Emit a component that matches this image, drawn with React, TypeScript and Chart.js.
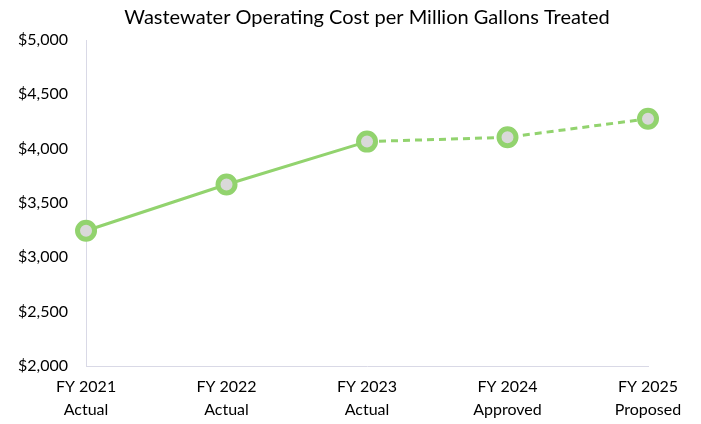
import React, { useEffect, useRef } from "react";
import { Chart, registerables } from "chart.js";

Chart.register(...registerables);

const TITLE = "Wastewater Operating Cost per Million Gallons Treated";
const YEARS = ["FY 2021", "FY 2022", "FY 2023", "FY 2024", "FY 2025"];
const STAGES = ["Actual", "Actual", "Actual", "Approved", "Proposed"];
const COST = [3245, 3670, 4065, 4105, 4275];
const Y_MIN = 2000;
const Y_MAX = 5000;
const Y_STEP = 500;

const GREEN = "#92d36e";
const FONT = "Lato, 'Open Sans', sans-serif";

export default function App() {
  const ref = useRef<HTMLCanvasElement>(null);
  useEffect(() => {
    document.body.style.margin = "0";
    const chart = new Chart(ref.current!, {
      type: "line",
      data: {
        labels: YEARS.map((y, i) => [y, STAGES[i]]),
        datasets: [
          {
            data: COST,
            borderColor: GREEN,
            borderWidth: 3,
            pointRadius: 8.5,
            pointBorderWidth: 5,
            pointBackgroundColor: "#d9d9d9",
            pointBorderColor: GREEN,
            tension: 0,
            segment: {
              borderDash: (ctx: any) => (ctx.p0DataIndex >= 2 ? [7, 5] : undefined),
            },
          },
        ],
      },
      options: {
        animation: false,
        responsive: false,
        layout: { padding: { left: 0, right: 53, top: 4, bottom: 0 } },
        plugins: {
          legend: { display: false },
          tooltip: { enabled: false },
          title: {
            display: true,
            fullSize: false,
            text: TITLE,
            color: "#000",
            font: { family: FONT, size: 20, weight: "normal" },
            padding: { top: 2, bottom: 10 },
          },
        },
        scales: {
          x: {
            offset: false,
            grid: { display: false, drawTicks: false },
            border: { color: "#d9d9e6", width: 1 },
            afterFit: (s: any) => {
              s.height = 58;
            },
            ticks: {
              color: "#000",
              font: { family: FONT, size: 16, lineHeight: 1.4 },
              padding: 10,
              maxRotation: 0,
            },
          },
          y: {
            min: Y_MIN,
            max: Y_MAX,
            grid: { display: false, drawTicks: false },
            border: { color: "#d9d9e6", width: 1 },
            ticks: {
              stepSize: Y_STEP,
              color: "#000",
              font: { family: FONT, size: 16 },
              padding: 18,
              callback: (v: any) => "$" + Number(v).toLocaleString("en-US"),
            },
          },
        },
      },
    });
    return () => chart.destroy();
  }, []);
  return (
    <div style={{ width: 701, height: 424 }}>
      <canvas ref={ref} width={701} height={424} />
    </div>
  );
}
